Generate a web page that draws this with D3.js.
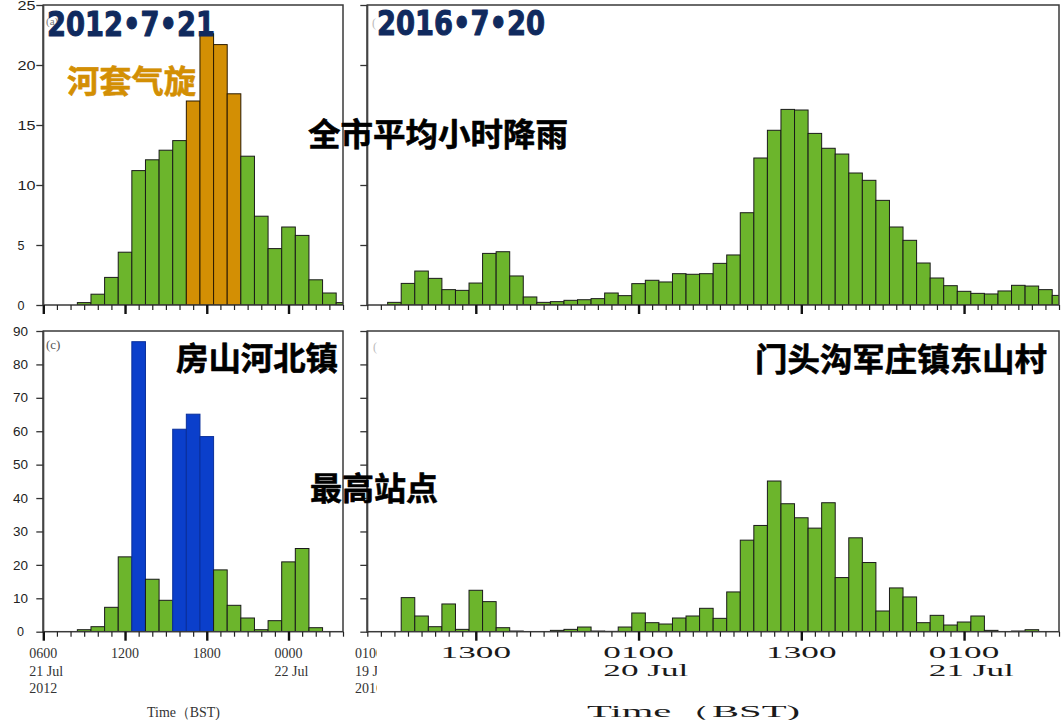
<!DOCTYPE html>
<html><head><meta charset="utf-8">
<script src="https://cdn.jsdelivr.net/npm/d3@7"></script>
<style>body{margin:0;background:#fff}svg{display:block}</style>
</head><body><svg id="c" width="1062" height="720"></svg>
<script>
// ---------------- data ----------------
const hours2012 = ["0900","1000","1100","1200","1300","1400","1500","1600","1700","1800","1900","2000","2100","2200","2300","0000","0100","0200","0300","0400"];
const cityMean2012 = [0.2,0.9,2.3,4.4,11.2,12.1,12.9,13.7,17.0,22.6,21.7,17.6,12.4,7.4,4.7,6.5,5.8,2.1,1.0,0.2];
const cityHighlight2012 = ["1700","1800","1900","2000"];
const station2012 = [0.6,1.5,7.3,22.4,86.8,15.7,9.4,60.6,65.1,58.4,18.5,7.9,4.1,0.6,3.3,20.9,24.9,1.2,0,0];
const stationHighlight2012 = ["1300","1600","1700","1800"];

const hours2016 = ["19/05","19/06","19/07","19/08","19/09","19/10","19/11","19/12","19/13","19/14","19/15","19/16","19/17","19/18","19/19","19/20","19/21","19/22","19/23",
  "20/00","20/01","20/02","20/03","20/04","20/05","20/06","20/07","20/08","20/09","20/10","20/11","20/12","20/13","20/14","20/15","20/16","20/17","20/18","20/19","20/20","20/21","20/22","20/23",
  "21/00","21/01","21/02","21/03","21/04","21/05","21/06","21/07","21/08"];
const cityMean2016 = [0,0,0.22,1.8,2.83,2.22,1.28,1.22,1.83,4.3,4.44,2.42,0.67,0.22,0.28,0.39,0.44,0.53,1.0,0.78,1.78,2.06,1.92,2.61,2.56,2.61,3.47,4.17,7.69,12.25,14.56,16.3,16.25,14.3,13.06,12.58,11.0,10.39,8.72,6.5,5.39,3.5,2.25,1.61,1.14,0.97,0.92,1.17,1.64,1.58,1.28,0.8];
const station2016 = [0,0,0,10.2,4.7,1.5,8.3,0.7,12.4,9.0,1.2,0.2,0,0,0.4,0.7,1.4,0.2,0.1,1.4,5.6,2.7,2.3,4.1,4.7,7.0,4.0,11.9,27.4,31.8,45.1,38.3,34.1,31.0,38.6,16.2,28.1,20.7,6.2,13.1,10.4,2.7,4.9,2.0,2.9,4.7,0.4,0,0.2,0.6,0,0];

const yTicksCity = [0,5,10,15,20,25];
const yTicksStation = [0,10,20,30,40,50,60,70,80,90];
const tickLabels2012 = [["0600","21 Jul","2012"],["1200"],["1800"],["0000","22 Jul"]];
const tickHours2016 = ["19/13","20/01","20/13","21/01"];
const tickLabels2016 = [["1300"],["0100","20 Jul"],["1300"],["0100","21 Jul"]];
const edgeLabel2016 = ["0100","19 Jul","2016"];

// ---------------- styles ----------------
const GREEN="#6cb52c", ORANGE="#d38f04", BLUE="#0b3fcb", NAVY="#102a5e";
const off2012 = h => (parseInt(h.slice(0,2)) - 6 + 24) % 24;
const off2016 = h => (parseInt(h.slice(0,2)) - 19) * 24 + parseInt(h.slice(3,5)) - 5;

const svg = d3.select("#c");
let clipN = 0;

function drawPanel(o){
  const x = d3.scaleLinear().domain(o.xDomain).range([o.x0,o.x1]);
  const y = d3.scaleLinear().domain([0,o.yMax]).range([o.y1,o.y0]);
  const id = "clip"+(clipN++);
  svg.append("clipPath").attr("id",id).append("rect")
    .attr("x",o.x0).attr("y",o.y0-2).attr("width",o.x1-o.x0).attr("height",o.y1-o.y0+2);
  const data = o.cats.map((c,i)=>({c, off:o.offset(c), v:o.values[i], hi:o.highlight.includes(c)})).filter(d=>d.v>0);
  svg.append("g").attr("clip-path",`url(#${id})`).selectAll("rect").data(data).join("rect")
    .attr("x",d=>x(d.off-0.5)).attr("width",d=>x(d.off+0.5)-x(d.off-0.5))
    .attr("y",d=>y(d.v)).attr("height",d=>y(0)-y(d.v))
    .attr("fill",d=>d.hi?o.hiFill:GREEN)
    .attr("stroke",d=>d.hi?o.hiStroke:"#1a1a1a").attr("stroke-width",1);
  // frame
  svg.append("rect").attr("x",o.x0).attr("y",o.y0).attr("width",o.x1-o.x0).attr("height",o.y1-o.y0)
    .attr("fill","none").attr("stroke","#3a3a3a").attr("stroke-width",1.5);
  svg.append("line").attr("x1",o.x0).attr("x2",o.x0).attr("y1",o.y0).attr("y2",o.y1+1)
    .attr("stroke","#444").attr("stroke-width",2);
  // x ticks
  const gx = svg.append("g").attr("transform",`translate(0,${o.y1})`);
  const mi = gx.append("g").call(d3.axisBottom(x).tickValues(o.minor).tickSize(5).tickFormat(""));
  mi.select(".domain").remove();
  mi.selectAll("line").attr("stroke","#222").attr("stroke-width",1.2);
  const ma = gx.append("g").call(d3.axisBottom(x).tickValues(o.major).tickSize(9).tickFormat(""));
  ma.select(".domain").remove();
  ma.selectAll("line").attr("stroke","#111").attr("stroke-width",2.4);
  // y ticks
  const gy = svg.append("g").attr("transform",`translate(${o.x0},0)`)
    .call(d3.axisLeft(y).tickValues(o.yTicks).tickSize(7).tickFormat(o.yLabels?d3.format("d"):""));
  gy.select(".domain").remove();
  gy.selectAll("line").attr("stroke","#333").attr("stroke-width",1.3);
  if(o.yLabels){
    gy.selectAll("text").attr("font-family","Liberation Sans, Arial, sans-serif").attr("font-size",13)
      .attr("fill","#222").attr("text-anchor",o.yAnchor).attr("x",o.yLabelX-o.x0)
      .attr("textLength",d=>String(d).length===1?7:o.twoDigitW).attr("lengthAdjust","spacingAndGlyphs");
  } else gy.selectAll("text").remove();
  return x;
}

const LX0=43.3, LX1=343, RX0=367.3, RX1=1059;
const TY0=5, TY1=305, BY0=331, BY1=631.7;

const xTL = drawPanel({x0:LX0,x1:LX1,y0:TY0,y1:TY1,xDomain:[0,22],yMax:25,cats:hours2012,values:cityMean2012,
  highlight:cityHighlight2012,hiFill:ORANGE,hiStroke:"#2a1a00",offset:off2012,
  minor:d3.range(0,23),major:[0,6,12,18],yTicks:yTicksCity,yLabels:true,yAnchor:"start",yLabelX:17.5,twoDigitW:18});
const xBL = drawPanel({x0:LX0,x1:LX1,y0:BY0,y1:BY1,xDomain:[0,22],yMax:90,cats:hours2012,values:station2012,
  highlight:stationHighlight2012,hiFill:BLUE,hiStroke:"#0a2f9a",offset:off2012,
  minor:d3.range(0,23),major:[0,6,12,18],yTicks:yTicksStation,yLabels:true,yAnchor:"middle",yLabelX:20.5,twoDigitW:15});
const xTR = drawPanel({x0:RX0,x1:RX1,y0:TY0,y1:TY1,xDomain:[0,51],yMax:25,cats:hours2016,values:cityMean2016,
  highlight:[],offset:off2016,minor:d3.range(0,52),major:[8,20,32,44],yTicks:yTicksCity,yLabels:false});
const xBR = drawPanel({x0:RX0,x1:RX1,y0:BY0,y1:BY1,xDomain:[0,51],yMax:90,cats:hours2016,values:station2016,
  highlight:[],offset:off2016,minor:d3.range(0,52),major:[8,20,32,44],yTicks:yTicksStation,yLabels:false});

// ---------- x tick labels ----------
const lineY = [658,676,693];
tickLabels2012.forEach(lines=>{
  const tx = xBL(off2012(lines[0]));
  const t0 = svg.append("text").attr("font-family","Liberation Serif, Times New Roman, serif").attr("font-size",14).text(lines[0]);
  const w = t0.node().getComputedTextLength(); t0.remove();
  lines.forEach((s,i)=>svg.append("text").attr("x",tx-w/2).attr("y",lineY[i])
    .attr("font-family","Liberation Serif, Times New Roman, serif").attr("font-size",14).attr("fill","#333").text(s));
});
const SX = 2.2;
tickLabels2016.forEach((lines,k)=>{
  const tx = xBR(off2016(tickHours2016[k]));
  const t0 = svg.append("text").attr("font-family","Liberation Serif, Times New Roman, serif").attr("font-size",16).text(lines[0]);
  const w = t0.node().getComputedTextLength(); t0.remove();
  const g = svg.append("g").attr("transform",`translate(${tx-w*SX/2},0) scale(${SX},1)`);
  lines.forEach((s,i)=>g.append("text").attr("x",0).attr("y",lineY[i])
    .attr("font-family","Liberation Serif, Times New Roman, serif").attr("font-size",16).attr("fill","#1a1a1a").text(s));
});
svg.append("clipPath").attr("id","edgeclip").append("rect").attr("x",350).attr("y",640).attr("width",27).attr("height",60);
const ge = svg.append("g").attr("clip-path","url(#edgeclip)");
edgeLabel2016.forEach((s,i)=>ge.append("text").attr("x",355).attr("y",lineY[i])
  .attr("font-family","Liberation Serif, Times New Roman, serif").attr("font-size",14).attr("fill","#333").text(s));

svg.append("text").attr("x",147).attr("y",717).attr("font-family","Liberation Serif, Times New Roman, serif")
  .attr("font-size",14).attr("fill","#333").attr("textLength",73).attr("lengthAdjust","spacingAndGlyphs").text("Time（BST)");
svg.append("text").attr("x",587).attr("y",717).attr("font-family","Liberation Serif, Times New Roman, serif")
  .attr("font-size",16).attr("fill","#1a1a1a").attr("textLength",213).attr("lengthAdjust","spacingAndGlyphs").text("Time（BST)");

// ---------- panel letters ----------
svg.append("text").attr("x",46).attr("y",25).attr("font-family","Liberation Serif, serif").attr("font-size",11).attr("fill","#777").text("(a)");
svg.append("text").attr("x",46).attr("y",349).attr("font-family","Liberation Serif, serif").attr("font-size",13).attr("fill","#555").text("(c)");
svg.append("text").attr("x",372).attr("y",27).attr("font-family","Liberation Serif, serif").attr("font-size",12).attr("fill","#bbb").text("(");
svg.append("text").attr("x",373).attr("y",351).attr("font-family","Liberation Serif, serif").attr("font-size",12).attr("fill","#bbb").text("(");

// ---------- titles & annotations ----------
const titleFont = "DejaVu Sans, Verdana, sans-serif";
[["2012•7•21",47,36],["2016•7•20",377,35]].forEach(([t,x,y])=>
  svg.append("text").attr("x",x).attr("y",y).attr("font-family",titleFont).attr("font-weight",700).attr("font-size",34)
    .attr("fill",NAVY).attr("stroke",NAVY).attr("stroke-width",1.1).attr("stroke-linejoin","round")
    .attr("textLength",168).attr("lengthAdjust","spacingAndGlyphs").text(t));
const cjk = "Noto Sans CJK SC, sans-serif";
const notes = [
  {t:"河套气旋", x:67, y:93, w:129, c:ORANGE},
  {t:"全市平均小时降雨", x:308, y:146, w:260, c:"#000"},
  {t:"房山河北镇", x:176, y:370, w:162, c:"#000"},
  {t:"最高站点", x:310, y:500, w:128, c:"#000"},
  {t:"门头沟军庄镇东山村", x:755, y:371, w:292, c:"#000"}
];
notes.forEach(n=>svg.append("text").attr("x",n.x).attr("y",n.y).attr("font-family",cjk).attr("font-weight",700)
  .attr("font-size",32).attr("fill",n.c).attr("stroke",n.c).attr("stroke-width",0.6).attr("stroke-linejoin","round")
  .attr("textLength",n.w).attr("lengthAdjust","spacingAndGlyphs").text(n.t));
</script></body></html>
